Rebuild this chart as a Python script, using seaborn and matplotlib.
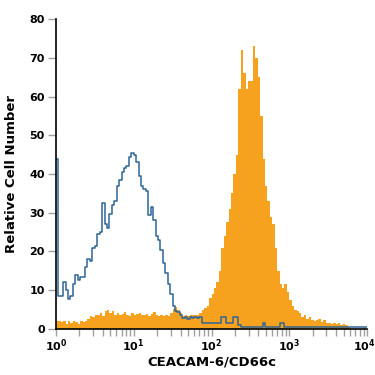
import numpy as np
import matplotlib
matplotlib.use("Agg")
import matplotlib.pyplot as plt
import matplotlib.transforms as mtransforms
import seaborn as sns

# 128 channels over 4 decades (1/32 decade each), counts
n_bins = 128
stained = [2, 2, 1.8, 2, 1.3, 2, 1.5, 2, 1.8, 1.3, 2, 1.8, 2,
           2.6, 3.2, 3.0, 3.5, 3.6, 4, 3.4, 4.5, 4.8, 4.2, 4.6, 3.6, 4.2, 3.5, 3.8, 4.4, 3.6, 3.4,
           4.0, 3.5, 3.8, 4.2, 3.6, 3.5, 3.9, 3.4, 3.8, 4.3, 3.6, 3.2, 3.5, 3.3, 3.6, 3.2, 4.0,
           5.2, 5.6, 4.8, 4.0, 3.4, 3.6, 3.2, 3.6, 3.5, 3.6, 3.6, 4.2, 5.0, 5.5,
           6, 8, 9, 10.5, 12, 15, 21, 24, 27.5, 31, 35, 40, 45, 62, 72,
           66, 62, 64, 64, 73, 70, 65, 55, 44, 37, 33, 29, 27, 21, 15,
           11.5, 10.5, 11.5, 9.5, 7.5, 6, 5, 4.6, 4.2, 3, 3.5, 2.6, 3, 2.4, 2, 2.4, 2.6, 1.8,
           2.2, 1.4, 1.6, 1.2, 1.5, 1.2, 1.4, 1, 1.3, 1.0, 0.6,
           0, 0, 0, 0, 0, 0, 0]
isotype = [44, 8.5, 8.5, 12, 10, 7.7, 8.5, 11.6, 14, 12.5, 13.5, 13.5, 16, 18, 17.5, 21, 21.5, 24.5, 25, 32.5,
           27, 26, 29.6, 32, 33, 37, 38.5, 40.5, 41.5, 42, 44.5, 45.5, 45, 43, 39.5, 37, 36, 35.5, 29.5, 31.5,
           28, 24, 23, 20.5, 17, 14.5, 11.5, 9, 6, 4.6, 4.3, 3.6, 2.8, 3, 2.6, 3, 2.8, 3, 2.9, 3,
           1.6, 1.6, 1.6, 1.6, 1.6, 1.6, 1.6, 1.6, 3, 3, 1.6, 1.6, 1.6, 3, 3, 1.0, 0.5, 0.5, 0.5, 0.5,
           0.5, 0.5, 0.5, 0.5, 0.5, 1.6, 0.5, 0.5, 0.5, 0.5, 0.5, 0.5, 1.6, 1.6, 0.5, 0.5, 0.5, 0.5, 0.5, 0.5,
           0.5, 0.5, 0.5, 0.5, 0.5, 0.5, 0.5, 0.5, 0.5, 0.5, 0.5, 0.5, 0.5, 0.5,
           0.5, 0.5, 0.5, 0.5, 0.5, 0.5, 0.5, 0.5, 0.5, 0.5, 0.5, 0.5, 0.5, 0.5]
x_ticks = [1, 10, 100, 1000, 10000]
y_ticks = [0, 10, 20, 30, 40, 50, 60, 70, 80]

centers = 10 ** ((np.arange(n_bins) + 0.5) * 4 / n_bins)

sns.set_style("ticks")
plt.rcParams['font.family'] = ['Liberation Sans Narrow', 'DejaVu Sans']
plt.rcParams['mathtext.default'] = 'regular'

fig = plt.figure(figsize=(3.75, 3.75), dpi=100)
ax = fig.add_axes([0.149, 0.123, 0.83, 0.826])

sns.histplot(x=centers, weights=stained, bins=n_bins, binrange=(0, 4), log_scale=True,
             element="step", fill=True, color="#f7a21e", alpha=1, linewidth=0, ax=ax)
sns.histplot(x=centers, weights=isotype, bins=n_bins, binrange=(0, 4), log_scale=True,
             element="step", fill=False, color="#2f6596", linewidth=1.1, ax=ax)

ax.set_xlim(1, 1e4)
ax.set_ylim(0, 80)
ax.set_xticks(x_ticks)
ax.set_yticks(y_ticks)
sns.despine(ax=ax)
for s in ["left", "bottom"]:
    ax.spines[s].set_color("black")
    ax.spines[s].set_linewidth(1.2)
ax.tick_params(axis="both", which="both", color="#a0a0a0", width=1, labelsize=8, pad=2,
               labelcolor="black")
ax.tick_params(axis="y", length=6)
ax.tick_params(axis="x", which="major", length=5, pad=1)
ax.tick_params(axis="x", which="minor", length=5)
for lbl in ax.get_xticklabels() + ax.get_yticklabels():
    lbl.set_fontweight("bold")
# keep the last decade label inside the canvas
last = ax.get_xticklabels()[-1]
last.set_transform(last.get_transform() + mtransforms.ScaledTranslation(-0.03, 0, fig.dpi_scale_trans))

ax.set_xlabel("CEACAM-6/CD66c", fontsize=9.5, fontweight="bold", labelpad=1, color="black")
ax.set_ylabel("Relative Cell Number", fontsize=9.5, fontweight="bold", labelpad=8, color="black")

fig.savefig("out.png", dpi=100)
